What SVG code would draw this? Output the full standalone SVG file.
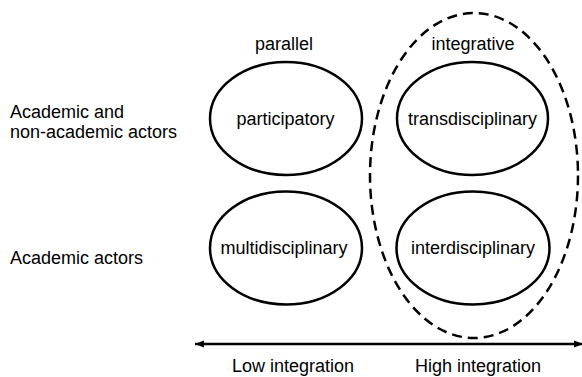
<svg xmlns="http://www.w3.org/2000/svg" width="582" height="377" viewBox="0 0 582 377">
<style>
text{font-family:"Liberation Sans",Arial,sans-serif;font-size:18px;fill:#000}
.c{text-anchor:middle}
.e{fill:none;stroke:#000;stroke-width:2.5}
.d{fill:none;stroke:#000;stroke-width:2.5;stroke-dasharray:10 6}
</style>
<defs>
<marker id="ah" markerUnits="userSpaceOnUse" markerWidth="10" markerHeight="10" refX="9" refY="4" orient="auto-start-reverse">
<path d="M0,0.5 L9,4 L0,7.5 Z" fill="#000"/>
</marker>
</defs>
<rect width="582" height="377" fill="#fff"/>
<g id="row-labels">
<text x="10" y="118">Academic and</text>
<text x="10" y="138">non-academic actors</text>
<text x="10" y="264">Academic actors</text>
</g>
<g id="col-labels">
<text class="c" x="284" y="50">parallel</text>
<text class="c" x="473" y="50">integrative</text>
</g>
<g id="integrative-group">
<ellipse class="d" cx="474" cy="175.5" rx="104" ry="162.5"/>
</g>
<g id="participatory">
<ellipse class="e" cx="286" cy="118.5" rx="76" ry="56.5"/>
<text class="c" x="285.5" y="125">participatory</text>
</g>
<g id="transdisciplinary">
<ellipse class="e" cx="472.5" cy="118.5" rx="75.5" ry="56.5"/>
<text class="c" x="472.5" y="125">transdisciplinary</text>
</g>
<g id="multidisciplinary">
<ellipse class="e" cx="286" cy="248" rx="76" ry="56.5"/>
<text class="c" x="284" y="254">multidisciplinary</text>
</g>
<g id="interdisciplinary">
<ellipse class="e" cx="473" cy="248" rx="76.5" ry="56.5"/>
<text class="c" x="473" y="254">interdisciplinary</text>
</g>
<g id="connectors">
<line x1="195" y1="344" x2="583" y2="344" stroke="#000" stroke-width="2.5" marker-start="url(#ah)" marker-end="url(#ah)"/>
</g>
<g id="axis-labels">
<text class="c" x="293" y="372">Low integration</text>
<text class="c" x="478" y="372">High integration</text>
</g>
</svg>
